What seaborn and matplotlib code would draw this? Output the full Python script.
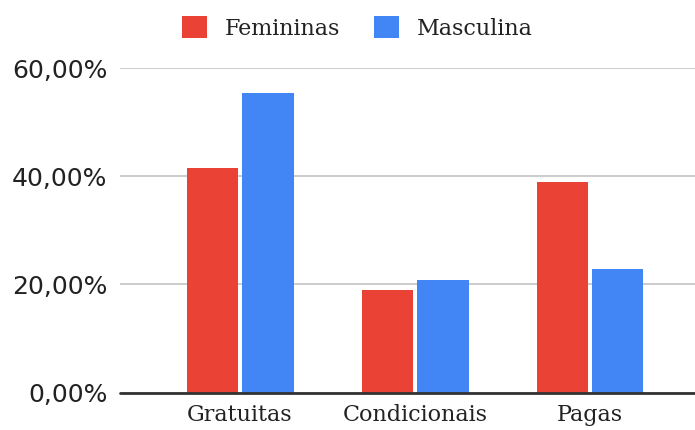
import matplotlib
matplotlib.use("Agg")
import matplotlib.pyplot as plt
from matplotlib.patches import Patch
import seaborn as sns
import pandas as pd

categories = ["Gratuitas", "Condicionais", "Pagas"]
femininas = [41.6, 18.9, 39.0]
masculina = [55.5, 20.8, 22.8]
series_names = ["Femininas", "Masculina"]
series_colors = ["#EA4335", "#4285F4"]
y_ticks = [0, 20, 40, 60]
y_tick_labels = ["0,00%", "20,00%", "40,00%", "60,00%"]

df = pd.DataFrame({
    "categoria": categories * 2,
    "serie": [series_names[0]] * len(categories) + [series_names[1]] * len(categories),
    "valor": femininas + masculina,
})

sns.set_theme(style="white")

fig = plt.figure(figsize=(6.95, 4.30), dpi=100)
ax = fig.add_axes([0.1727, 0.0872, 0.8273, 0.7540])

sns.barplot(
    data=df, x="categoria", y="valor", hue="serie",
    palette=series_colors, saturation=1, width=0.635, gap=0.075,
    errorbar=None, linewidth=0, ax=ax, zorder=3,
)

ax.set_xlim(-0.686, 2.6)
ax.set_ylim(0, 60)
ax.set_yticks(y_ticks)
ax.set_yticklabels(y_tick_labels, fontfamily="DejaVu Sans", fontsize=18, color="#222222")
ax.set_xticks(range(len(categories)))
ax.set_xticklabels(categories, fontfamily="DejaVu Serif", fontsize=16, color="#222222")
ax.tick_params(axis="both", length=0)
ax.tick_params(axis="y", pad=9)
ax.tick_params(axis="x", pad=8)
ax.set_xlabel("")
ax.set_ylabel("")

for s in ax.spines.values():
    s.set_visible(False)
ax.set_axisbelow(True)
ax.yaxis.grid(True, color="#cccccc", linewidth=1.4)
ax.axhline(0, color="#333333", linewidth=2, zorder=4, clip_on=False)

if ax.get_legend() is not None:
    ax.get_legend().remove()
handles = [Patch(facecolor=c, edgecolor="none") for c in series_colors]
fig.legend(
    handles, series_names, loc="center", bbox_to_anchor=(0.514, 0.935),
    ncol=2, frameon=False,
    prop={"family": "DejaVu Serif", "size": 16},
    handlelength=1.15, handleheight=1.15, handletextpad=0.8, columnspacing=1.5,
    labelcolor="#222222",
)

fig.savefig("out.png", dpi=100, facecolor="white")
